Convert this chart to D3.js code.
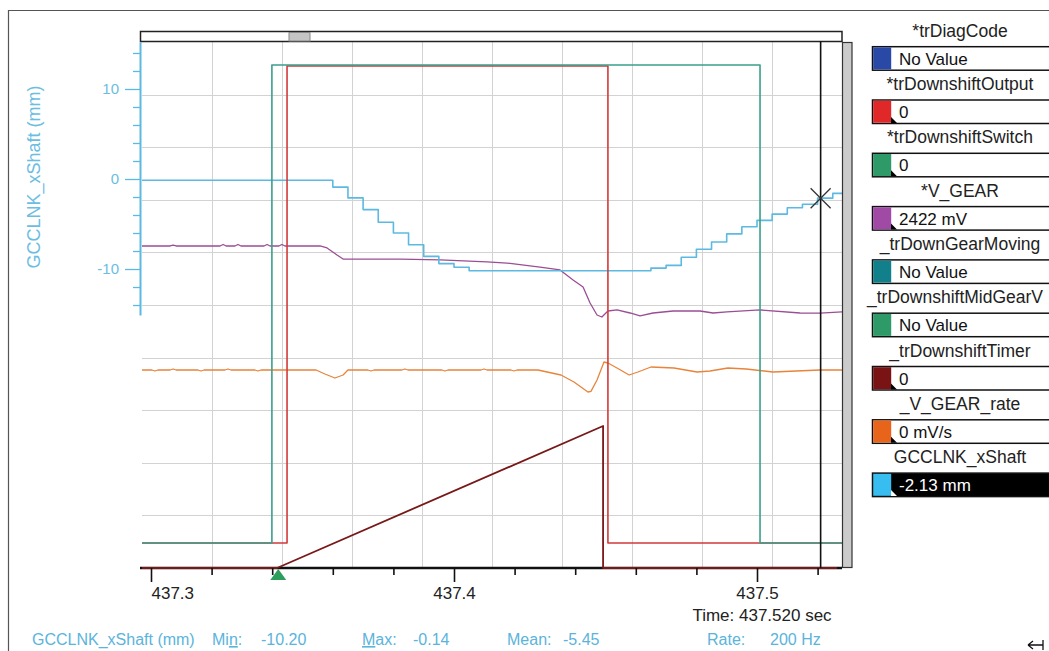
<!DOCTYPE html>
<html>
<head>
<meta charset="utf-8">
<style>
  body { margin: 0; background: #fff; }
  svg { display: block; font-family: "Liberation Sans", Arial, sans-serif; }
</style>
</head>
<body>
<svg width="1049" height="651"></svg>
<script src="https://d3js.org/d3.v7.min.js"></script>
<script>

// ---- data ----
var timeTicks = [437.3, 437.4, 437.5];      // labelled x ticks (sec)
var minorStep = 0.02;                       // minor x tick spacing (sec)
var cursorTime = 437.521;
var triggerTime = 437.342;

// GCCLNK_xShaft (mm), sampled at 200 Hz
var xShaftStart = 437.295, xShaftStep = 0.005;
var xShaftValues = [
  -0.14, -0.14, -0.14, -0.14, -0.14, -0.14, -0.14, -0.14, -0.14, -0.14, -0.14, -0.14, -0.14,
  -0.9, -2.1, -3.4, -4.8, -6.0, -7.3, -8.6, -9.4, -9.8,
  -10.2, -10.2, -10.2, -10.2, -10.2, -10.2, -10.2, -10.2, -10.2, -10.2, -10.2, -10.2,
  -9.9, -9.6, -8.7, -7.8, -7.0, -6.1, -5.3, -4.6, -3.9, -3.2, -2.8, -2.13, -1.6
];

// digital signals: [time, state]
var switchSteps = [[437.2970, 0], [437.3399, 1], [437.5010, 0], [437.5281, 0]];
var outputSteps = [[437.2970, 0], [437.3449, 1], [437.4508, 0], [437.5281, 0]];

// _trDownshiftTimer (ms)
var timerPoints = [[437.2970, 0], [437.3416, 0], [437.4492, 108], [437.4492, 0], [437.5264, 0]];

// *V_GEAR (mV)
var vGearPoints = [
  [437.2970, 3061], [437.3063, 3061], [437.3073, 3070], [437.3083, 3061],
  [437.3228, 3061], [437.3238, 3075], [437.3248, 3061], [437.3277, 3061],
  [437.3287, 3075], [437.3297, 3061], [437.3373, 3061], [437.3383, 3075],
  [437.3393, 3061], [437.3422, 3061], [437.3432, 3075], [437.3442, 3061],
  [437.3558, 3061], [437.3581, 3042], [437.3614, 2975], [437.3634, 2937],
  [437.3822, 2937], [437.3954, 2928], [437.4109, 2909], [437.4175, 2899],
  [437.4284, 2861], [437.4350, 2833], [437.4393, 2738], [437.4426, 2671],
  [437.4449, 2519], [437.4472, 2405], [437.4488, 2386], [437.4508, 2443],
  [437.4538, 2453], [437.4581, 2424], [437.4614, 2396], [437.4657, 2424],
  [437.4723, 2443], [437.4812, 2443], [437.4855, 2424], [437.4901, 2434],
  [437.5010, 2453], [437.5142, 2424], [437.5208, 2422], [437.5281, 2434]
];

// _V_GEAR_rate (mV/s)
var vGearRatePoints = [
  [437.2970, 0], [437.3003, 0], [437.3013, -30], [437.3023, 0],
  [437.3063, 0], [437.3073, 30], [437.3083, 0], [437.3155, 0],
  [437.3165, -30], [437.3175, 0], [437.3244, 0], [437.3254, 30],
  [437.3264, 0], [437.3343, 0], [437.3353, -30], [437.3363, 0],
  [437.3545, 0], [437.3574, -120], [437.3607, -240], [437.3634, -150],
  [437.3650, 0], [437.3716, 0], [437.3726, -30], [437.3736, 0],
  [437.3828, 0], [437.3838, 30], [437.3848, 0], [437.3960, 0],
  [437.3970, -30], [437.3980, 0], [437.4089, 0], [437.4099, 30],
  [437.4109, 0], [437.4188, 0], [437.4198, -30], [437.4208, 0],
  [437.4277, 0], [437.4353, -150], [437.4396, -360], [437.4442, -660],
  [437.4452, -640], [437.4472, -300], [437.4495, 240], [437.4508, 210],
  [437.4538, 60], [437.4578, -150], [437.4607, -60], [437.4650, 90],
  [437.4726, 60], [437.4802, -60], [437.4845, -30], [437.4904, 60],
  [437.4964, 30], [437.5053, -60], [437.5129, -30], [437.5208, 0],
  [437.5281, 0]
];

var legendNames = ["*trDiagCode", "*trDownshiftOutput", "*trDownshiftSwitch", "*V_GEAR",
  "_trDownGearMoving", "_trDownshiftMidGearV", "_trDownshiftTimer", "_V_GEAR_rate", "GCCLNK_xShaft"];
var legendValues = ["No Value", "0", "0", "2422 mV", "No Value", "No Value", "0", "0 mV/s", "-2.13 mm"];
var legendColors = ["#2a48a6", "#e02828", "#2e9a68", "#a04aa6", "#11808a", "#2e9a68", "#7a1414", "#e8641a", "#38bdf0"];

var statLabels = ["Min:", "Max:", "Mean:", "Rate:"];
var statValues = ["-10.20", "-0.14", "-5.45", "200 Hz"];

// ---- layout ----
var svg = d3.select("svg");
var pLeft = 142, pRight = 842, pTop = 42, pBottom = 568;
var cyan = "#5cb9e2";

var x = d3.scaleLinear().domain([437.3, 437.5]).range([151, 757]);
var yShaft = d3.scaleLinear().domain([-15.11, 15.22]).range([315, 42]);
var ySwitch = d3.scaleLinear().domain([0, 1]).range([543, 65]);
var yOutput = d3.scaleLinear().domain([0, 1]).range([543, 66]);
var yTimer = d3.scaleLinear().domain([0, 400]).range([568, 42]);
var yGear = d3.scaleLinear().domain([0, 5000]).range([568, 42]);
var yRate = d3.scaleLinear().domain([-3000, 3000]).range([470, 270]);

// outer frame
svg.append("path").attr("d", "M8.5,651V10.5H1049").attr("fill", "none").attr("stroke", "#555").attr("stroke-width", 1.2);

svg.append("defs").append("clipPath").attr("id", "plot").append("rect")
  .attr("x", pLeft).attr("y", pTop).attr("width", pRight - pLeft).attr("height", pBottom - pTop + 2);

// grid: 10 x 10 divisions
var grid = svg.append("g").attr("stroke", "#d2d2d2").attr("stroke-width", 1);
d3.range(1, 10).forEach(function(i) {
  var gx = Math.round(pLeft + i * (pRight - pLeft) / 10) + 0.5;
  var gy = Math.round(pTop + i * (pBottom - pTop) / 10) + 0.5;
  grid.append("line").attr("x1", gx).attr("x2", gx).attr("y1", pTop).attr("y2", pBottom);
  grid.append("line").attr("x1", pLeft).attr("x2", pRight).attr("y1", gy).attr("y2", gy);
});

// x axis baseline
svg.append("line").attr("x1", 140).attr("x2", pRight).attr("y1", 568).attr("y2", 568)
  .attr("stroke", "#111").attr("stroke-width", 2.5);

// traces
var traces = svg.append("g").attr("clip-path", "url(#plot)").attr("fill", "none");

function trace(data, yScale, color, width, curve) {
  traces.append("path")
    .datum(data)
    .attr("stroke", color)
    .attr("stroke-width", width)
    .attr("stroke-linejoin", "round")
    .attr("d", d3.line()
      .x(function(d) { return x(d[0]); })
      .y(function(d) { return yScale(d[1]); })
      .curve(curve || d3.curveLinear));
}

trace(vGearPoints, yGear, "#9a4e94", 1.3);
trace(vGearRatePoints, yRate, "#e8843c", 1.3);

var shaft = xShaftValues.map(function(v, i) { return [xShaftStart + i * xShaftStep, v]; });
shaft.push([x.invert(pRight), xShaftValues[xShaftValues.length - 1]]);
trace(shaft, yShaft, cyan, 1.6, d3.curveStepAfter);

trace(timerPoints, yTimer, "#781818", 1.8);
trace(outputSteps, yOutput, "#d23a3a", 1.6, d3.curveStepAfter);
trace(switchSteps, ySwitch, "#3a9f8c", 1.6, d3.curveStepAfter);

// y axis (GCCLNK_xShaft)
var yAxis = d3.axisLeft(yShaft)
  .tickValues(d3.range(-14, 15, 2))
  .tickSize(7)
  .tickSizeOuter(0)
  .tickFormat(function(d) { return d % 10 === 0 ? d : ""; });
var ga = svg.append("g").attr("transform", "translate(140,0)").call(yAxis)
  .attr("font-family", null).attr("font-size", null);
ga.select(".domain").attr("stroke", cyan).attr("stroke-width", 2);
ga.selectAll(".tick line").attr("stroke", cyan).attr("stroke-width", 1.3)
  .attr("x2", function(d) { return d % 10 === 0 ? -15 : -7; });
ga.selectAll(".tick text").attr("x", -21).attr("fill", "#6cbde2").style("font-size", "15px");

svg.append("text")
  .attr("transform", "translate(40,177) rotate(-90)")
  .attr("text-anchor", "middle")
  .attr("fill", "#6cbde2")
  .style("font-size", "18px")
  .text("GCCLNK_xShaft (mm)");

// x axis ticks
function isMajor(d) { return timeTicks.some(function(t) { return Math.abs(t - d) < 1e-6; }); }
var xTicks = d3.range(0, 12).map(function(i) { return timeTicks[0] + i * minorStep; });
var xAxis = d3.axisBottom(x).tickValues(xTicks).tickSizeOuter(0).tickSize(7)
  .tickFormat(function(d) { return isMajor(d) ? d3.format(".1f")(d) : ""; });
var gx = svg.append("g").attr("transform", "translate(0,568)").call(xAxis)
  .attr("font-family", null).attr("font-size", null);
gx.select(".domain").remove();
gx.selectAll(".tick line").attr("stroke", "#111").attr("stroke-width", 1.6)
  .attr("y2", function(d) { return isMajor(d) ? 14 : 7; });
gx.selectAll(".tick text").attr("y", 31).attr("dy", 0).attr("fill", "#222")
  .style("font-size", "17px")
  .attr("text-anchor", function(d, i) { return i === 0 ? "start" : "middle"; });

svg.append("text").attr("x", 762).attr("y", 621).attr("text-anchor", "middle")
  .attr("fill", "#222").style("font-size", "17px").text("Time: 437.520 sec");

// trigger marker
var tx = x(triggerTime);
svg.append("path").attr("d", "M" + tx + ",569L" + (tx - 8) + ",580L" + (tx + 8) + ",580Z").attr("fill", "#2e9e5e");

// top scroll bar and right bar
svg.append("rect").attr("x", 140.5).attr("y", 31.5).attr("width", pRight - 140.5).attr("height", 10)
  .attr("fill", "#fff").attr("stroke", "#222").attr("stroke-width", 1.5);
svg.append("rect").attr("x", 289).attr("y", 32.5).attr("width", 21).attr("height", 8.5)
  .attr("fill", "#c4c4c4").attr("stroke", "#888");
svg.append("rect").attr("x", 842.5).attr("y", 42.5).attr("width", 9.5).attr("height", 525)
  .attr("fill", "#cbcbcb").attr("stroke", "#333").attr("stroke-width", 1.2);

// cursor
var cx = x(cursorTime), cy = yShaft(-2.13);
svg.append("line").attr("x1", cx).attr("x2", cx).attr("y1", 41).attr("y2", 568)
  .attr("stroke", "#111").attr("stroke-width", 1.6);
svg.append("path").attr("d", "M" + (cx - 10) + "," + (cy - 10) + "L" + (cx + 10) + "," + (cy + 10) +
  "M" + (cx - 10) + "," + (cy + 10) + "L" + (cx + 10) + "," + (cy - 10))
  .attr("stroke", "#333").attr("stroke-width", 1.3);

// legend panel
var legend = svg.append("g");
legendNames.forEach(function(name, i) {
  var bt = 46.7 + 53.3 * i, last = i === legendNames.length - 1;
  var lbl = legend.append("text").attr("x", 960).attr("y", bt - 10).attr("text-anchor", "middle")
    .attr("fill", "#222").style("font-size", "17.5px").text(name);
  if (960 + lbl.node().getComputedTextLength() / 2 > 1047) lbl.attr("x", 867).attr("text-anchor", "start");
  legend.append("rect").attr("x", 872.5).attr("y", bt).attr("width", 190).attr("height", 23.5)
    .attr("fill", last ? "#000" : "#fff").attr("stroke", "#111").attr("stroke-width", 1.5);
  legend.append("rect").attr("x", 873.2).attr("y", bt + 0.7).attr("width", 18).attr("height", 22)
    .attr("fill", legendColors[i]);
  if (legendValues[i] !== "No Value") {
    legend.append("path").attr("d", "M891," + (bt + 23) + "h6l-6,-6Z").attr("fill", last ? "#fff" : "#000");
  }
  legend.append("text").attr("x", 899).attr("y", bt + 18).attr("fill", last ? "#fff" : "#111")
    .style("font-size", "17px").text(legendValues[i]);
});

// statistics line
var stats = svg.append("g").attr("fill", "#5ab4dc").style("font-size", "16px");
stats.append("text").attr("x", 32).attr("y", 645).text("GCCLNK_xShaft (mm)");
var statLabelX = [212, 362, 507, 707], statValueX = [261, 413, 563, 770];
statLabels.forEach(function(s, i) {
  var t = stats.append("text").attr("x", statLabelX[i]).attr("y", 645);
  if (i === 0) {
    t.append("tspan").text("Mi");
    t.append("tspan").style("text-decoration", "underline").text("n");
    t.append("tspan").text(":");
  } else if (i === 1) {
    t.append("tspan").style("text-decoration", "underline").text("M");
    t.append("tspan").text("ax:");
  } else {
    t.text(s);
  }
  stats.append("text").attr("x", statValueX[i]).attr("y", 645).text(statValues[i]);
});

// resize glyph, bottom right
svg.append("path").attr("d", "M1028,645H1043M1028,645l5,-4M1028,645l5,4M1043,640V650")
  .attr("fill", "none").attr("stroke", "#111").attr("stroke-width", 1.3);

</script>
</body>
</html>
